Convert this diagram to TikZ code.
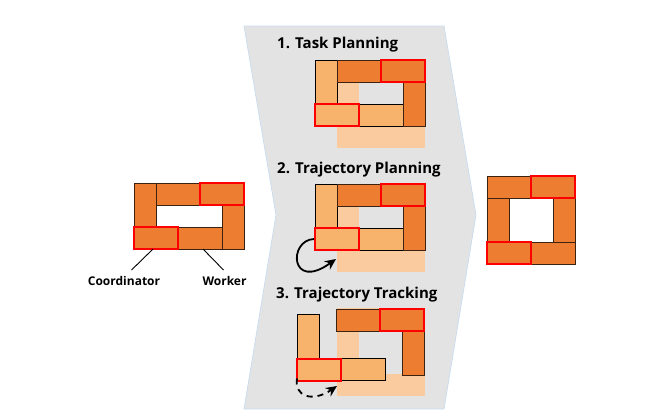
\documentclass[tikz,border=0pt]{standalone}
\usepackage{fontspec}
\setmainfont{Open Sans}
\usetikzlibrary{arrows.meta}
\definecolor{dk}{HTML}{ED7D31}
\definecolor{lt}{HTML}{F7B26C}
\definecolor{pl}{HTML}{F9CB9F}
\definecolor{bgc}{HTML}{E3E3E3}
\definecolor{edgec}{HTML}{C8DCF0}
\definecolor{brd}{HTML}{3B2212}
\newcommand\blk[6]{\node[#6, minimum width=#4pt, minimum height=#5pt] (#1) at (#2,#3) {};}
\newcommand\redo[1]{\draw[redline] (#1.north west) rectangle (#1.south east);}
\tikzset{
  blkbase/.style={rectangle, anchor=north west, inner sep=0pt, outer sep=0pt},
  dkb/.style={blkbase, fill=dk, draw=brd, line width=0.8pt},
  ltb/.style={blkbase, fill=lt, draw=black, line width=0.8pt},
  plb/.style={blkbase, fill=pl},
  redline/.style={draw=red, line width=2pt},
  title/.style={anchor=base west, inner sep=0pt, font=\bfseries\fontsize{15}{18}\selectfont},
  lab/.style={anchor=base, inner sep=0pt, font=\bfseries\fontsize{12}{14}\selectfont},
  pointer/.style={draw=black, line width=0.9pt},
  turn/.style={draw=black, line width=1.8pt, -{Stealth[length=11pt,width=10pt]}},
}
\begin{document}
\begin{tikzpicture}[x=1pt,y=-1pt]
\useasboundingbox (0,0) rectangle (656,418);
% chevron background
\filldraw[fill=bgc, draw=edgec, line width=0.7pt] (244,26) -- (444,26) -- (476,215) -- (444,409) -- (244,409) -- (276,215) -- cycle;

% left structure
\blk{Llv}{134}{183}{22}{44}{dkb}
\blk{Lt1}{156}{183}{44}{22}{dkb}
\blk{Lt2}{200}{183}{44}{22}{dkb}
\blk{Lrv}{222}{205}{22}{44}{dkb}
\blk{Lb1}{134}{227}{44}{22}{dkb}
\blk{Lb2}{178}{227}{44}{22}{dkb}
\redo{Lt2}\redo{Lb1}
\node[lab] (coord) at (124,285) {Coordinator};
\node[lab] (work) at (224.5,285) {Worker};
\draw[pointer] (131.5,270) -- ([xshift=-3pt]Lb1.south);
\draw[pointer] (223.5,270) -- ([xshift=3pt]Lb2.south);

% right structure
\blk{Rt1}{487}{176}{44}{22}{dkb}
\blk{Rt2}{531}{176}{44}{22}{dkb}
\blk{Rlv}{487}{198}{22}{44}{dkb}
\blk{Rrv}{553}{198}{22}{44}{dkb}
\blk{Rb1}{487}{242}{44}{22}{dkb}
\blk{Rb2}{531}{242}{44}{22}{dkb}
\redo{Rt2}\redo{Rb1}

% panel 1
\node[title] (t1) at (277,48.5) {1. Task Planning};
\blk{Agt}{337}{60}{88}{22}{plb}
\blk{Aglv}{337}{82}{22}{44}{plb}
\blk{Agrv}{403}{82}{22}{44}{plb}
\blk{Agb}{337}{126}{88}{22}{plb}
\blk{Alv}{315}{60}{22}{44}{ltb}
\blk{Ab1}{315}{104}{44}{22}{ltb}
\blk{Ab2}{359}{104}{44}{22}{ltb}
\blk{At1}{337}{60}{44}{22}{dkb}
\blk{At2}{381}{60}{44}{22}{dkb}
\blk{Arv}{403}{82}{22}{44}{dkb}
\redo{At2}\redo{Ab1}

% panel 2
\node[title] (t2) at (277,173) {2. Trajectory Planning};
\blk{Bgt}{337}{184}{88}{22}{plb}
\blk{Bglv}{337}{206}{22}{44}{plb}
\blk{Bgrv}{403}{206}{22}{44}{plb}
\blk{Bgb}{337}{250}{88}{22}{plb}
\blk{Blv}{315}{184}{22}{44}{ltb}
\blk{Bb1}{315}{228}{44}{22}{ltb}
\blk{Bb2}{359}{228}{44}{22}{ltb}
\blk{Bt1}{337}{184}{44}{22}{dkb}
\blk{Bt2}{381}{184}{44}{22}{dkb}
\blk{Brv}{403}{206}{22}{44}{dkb}
\redo{Bt2}\redo{Bb1}
\coordinate (Bend) at (336,259);
\draw[turn] ([xshift=-1pt]Bb1.west) .. controls (288,240) and (290,292) .. (Bend);

% panel 3
\node[title] (t3) at (276,298) {3. Trajectory Tracking};
\blk{Cgt}{337}{308}{88}{22}{plb}
\blk{Cglv}{337}{330}{22}{44}{plb}
\blk{Cgrv}{403}{330}{22}{44}{plb}
\blk{Cgb}{337}{374}{88}{22}{plb}
\blk{Clv}{297}{314.5}{22}{44}{ltb}
\blk{Cb1}{297}{358.5}{44}{22}{ltb}
\blk{Cb2}{341}{358.5}{44}{22}{ltb}
\blk{Ct1}{336}{309}{44}{22}{dkb}
\blk{Ct2}{380}{309}{44}{22}{dkb}
\blk{Crv}{402}{331}{22}{44}{dkb}
\redo{Ct2}\redo{Cb1}
\coordinate (Cend) at (337,386);
\draw[turn, dash pattern=on 6pt off 5pt] ([yshift=2pt]Cb1.south west) .. controls (294,396) and (312,403) .. (Cend);
\end{tikzpicture}
\end{document}
